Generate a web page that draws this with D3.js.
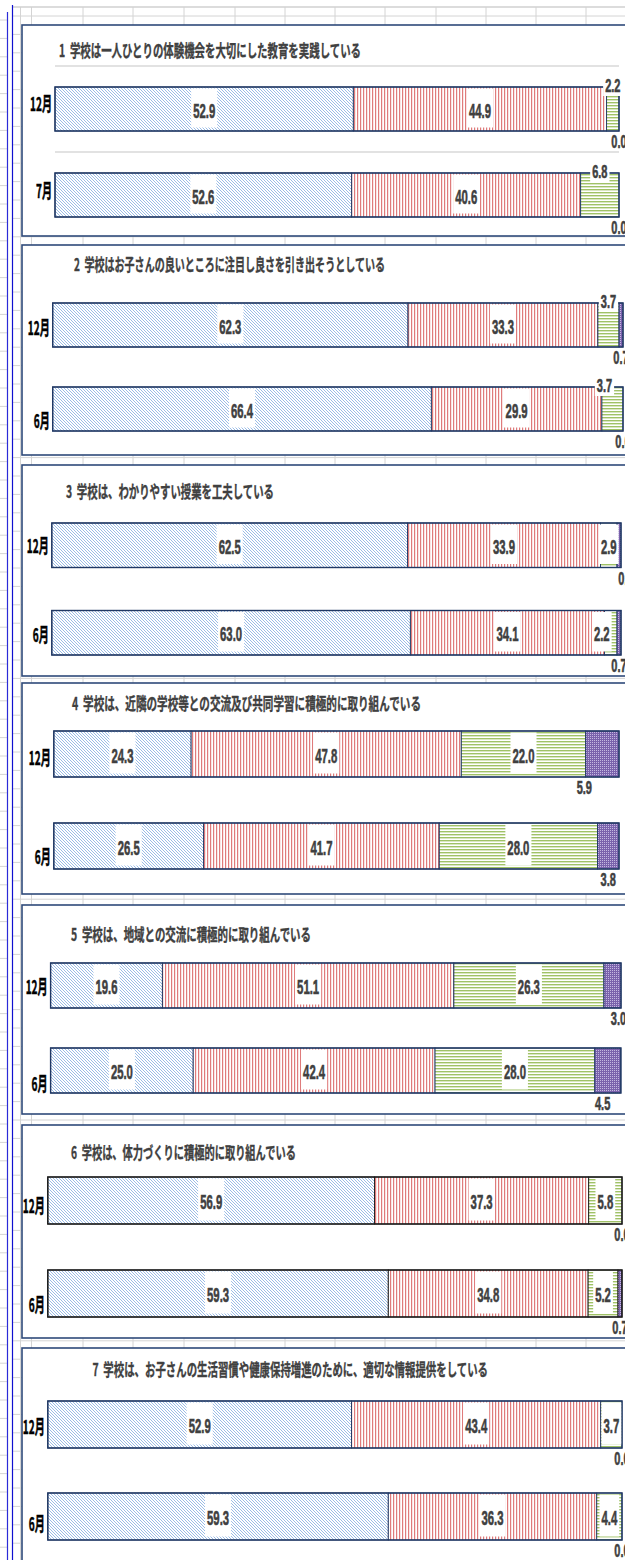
<!DOCTYPE html>
<html><head><meta charset="utf-8">
<script src="https://cdn.jsdelivr.net/npm/d3@7"></script>
<style>
html,body{margin:0;padding:0;background:#fff;}
svg{display:block;}
text{font-weight:bold;white-space:pre;}
</style></head><body>
<svg id="c" width="625" height="1560"></svg>
<script>
// ---------------- data ----------------
const panelTitles = [
  "1  学校は一人ひとりの体験機会を大切にした教育を実践している",
  "2  学校はお子さんの良いところに注目し良さを引き出そうとしている",
  "3  学校は、わかりやすい授業を工夫している",
  "4  学校は、近隣の学校等との交流及び共同学習に積極的に取り組んでいる",
  "5  学校は、地域との交流に積極的に取り組んでいる",
  "6  学校は、体力づくりに積極的に取り組んでいる",
  "7  学校は、お子さんの生活習慣や健康保持増進のために、適切な情報提供をしている"
];
const periods = [
  ["12月","7月"],["12月","6月"],["12月","6月"],["12月","6月"],
  ["12月","6月"],["12月","6月"],["12月","6月"]
];
const seriesKeys = ["そう思う","だいたいそう思う","あまりそう思わない","そう思わない"];
const agree       = [[52.9,52.6],[62.3,66.4],[62.5,63.0],[24.3,26.5],[19.6,25.0],[56.9,59.3],[52.9,59.3]];
const mostlyAgree = [[44.9,40.6],[33.3,29.9],[33.9,34.1],[47.8,41.7],[51.1,42.4],[37.3,34.8],[43.4,36.3]];
const notMuch     = [[2.2,6.8],[3.7,3.7],[2.9,2.2],[22.0,28.0],[26.3,28.0],[5.8,5.2],[3.7,4.4]];
const disagree    = [[0.0,0.0],[0.7,0.0],[0.7,0.7],[5.9,3.8],[3.0,4.5],[0.0,0.7],[0.0,0.0]];

// ---------------- layout ----------------
const layout = [
 {top:25,  bottom:236,  title:[59,361,57],     x:[55,619],   bars:[87,44,217],     grid:true, green:"above", labDy:[-5,-4]},
 {top:245, bottom:455,  title:[74,385,271],    x:[52.7,623], bars:[303,44,431],    green:"above", labDy:[3,12]},
 {top:465, bottom:676,  title:[66,274,498],    x:[51.8,621], bars:[523,44.5,655],  green:"in", labDy:[1,2]},
 {top:683, bottom:894,  title:[72,421,710],    x:[53.8,619], bars:[731,46,869],    green:"in", labDy:[4,11]},
 {top:905, bottom:1114, title:[71,311,941],    x:[50.6,621], bars:[963,45,1093],   green:"in", labDy:[2,14]},
 {top:1125,bottom:1338, title:[71,296,1159],   x:[47.8,622], bars:[1177,47,1317],  green:"in", edge:"#1a1a1a", labDy:[6,12]},
 {top:1348,bottom:1620, title:[92.5,488,1376], x:[47.8,622], bars:[1401,47,1540],  green:"in", labDy:[3,8]}
];
const nudge = {"1-1-2":-8, "2-0-3":7, "2-1-2":-9, "3-0-3":-18, "4-0-3":6, "4-1-3":-5};
const NUM_FONT = '"Liberation Sans", Arial, sans-serif';
const JP_FONT = '"Noto Sans CJK JP", "Noto Sans", sans-serif';

const svg = d3.select("#c");
const defs = svg.append("defs");
function pat(id,w,h,bg,draw){
  const p = defs.append("pattern").attr("id",id).attr("patternUnits","userSpaceOnUse")
    .attr("width",w).attr("height",h);
  p.append("rect").attr("width",w).attr("height",h).attr("fill",bg);
  draw(p);
}
pat("pBlue",3,3,"#fff",p=>p.append("path").attr("d","M-1,-1L4,4M-1,2L1,4M2,-1L4,1")
   .attr("stroke","#9BBCE6").attr("stroke-width",1.0));
pat("pRed",3,3,"#fff",p=>p.append("rect").attr("width",1.2).attr("height",3).attr("fill","#DF7B7B"));
pat("pGreen",3,3,"#fff",p=>p.append("rect").attr("width",3).attr("height",1.4).attr("fill","#A0C266"));
pat("pPurple",2,2,"#7A62AC",p=>p.append("rect").attr("width",1).attr("height",1).attr("fill","#C4B8E0"));
const fills = ["url(#pBlue)","url(#pRed)","url(#pGreen)","url(#pPurple)"];

// ---------------- spreadsheet background ----------------
const bg = svg.append("g");
bg.append("rect").attr("width",625).attr("height",1560).attr("fill","#fff");
for (let y=20; y<1560; y+=18.4){
  bg.append("line").attr("x1",0).attr("x2",7).attr("y1",y).attr("y2",y).attr("stroke","#D4D4D4");
  bg.append("line").attr("x1",12).attr("x2",625).attr("y1",y-4).attr("y2",y-4).attr("stroke","#D4D4D4");
}
[20.5,31.5,83,133,184,235,285,335,385,436,486,536,586].forEach(x=>
  bg.append("line").attr("x1",x).attr("x2",x).attr("y1",7).attr("y2",1560).attr("stroke","#D4D4D4"));
bg.append("line").attr("x1",12).attr("x2",625).attr("y1",7).attr("y2",7).attr("stroke","#D0D0D0").attr("stroke-width",1.5);
bg.append("line").attr("x1",7.5).attr("x2",7.5).attr("y1",12).attr("y2",1560).attr("stroke","#2B2BD8").attr("stroke-width",1.2);
bg.append("line").attr("x1",12.5).attr("x2",12.5).attr("y1",5).attr("y2",1560).attr("stroke","#1010D0").attr("stroke-width",1.2);

function sText(g,x,y,str,size,sx,fill,font){
  return g.append("text").attr("transform",`translate(${x},${y}) scale(${sx},1)`)
    .attr("text-anchor","middle").attr("font-size",size).attr("font-family",font)
    .attr("fill",fill).attr("stroke",fill).attr("stroke-width",0.6).text(str);
}

// ---------------- panels ----------------
layout.forEach((L,p)=>{
  const edge = L.edge || "#203864";
  const g = svg.append("g");
  g.append("rect").attr("x",22).attr("y",L.top).attr("width",640).attr("height",L.bottom-L.top)
    .attr("fill","#fff").attr("stroke","#2F4A7A").attr("stroke-width",1.6);
  g.append("text").attr("x",L.title[0]).attr("y",L.title[2]).attr("xml:space","preserve")
    .attr("textLength",L.title[1]-L.title[0]).attr("lengthAdjust","spacingAndGlyphs")
    .attr("font-family",JP_FONT).attr("font-size",17).attr("fill","#404040")
    .attr("stroke","#404040").attr("stroke-width",0.35)
    .text(panelTitles[p]);

  const x = d3.scaleLinear().domain([0,100]).range(L.x);
  const [b0,bh,b1] = L.bars;
  const S = (b1-b0)-bh;
  const y = d3.scaleBand().domain(periods[p]).range([b0,b1]).paddingInner(1-bh/S).paddingOuter(0);

  if (L.grid){
    periods[p].forEach(m=>{
      const gy = y(m) - (y.step()-y.bandwidth())/2;
      g.append("line").attr("x1",L.x[0]).attr("x2",L.x[1]).attr("y1",gy).attr("y2",gy)
        .attr("stroke","#D9D9D9").attr("stroke-width",1.5);
    });
  }

  const rows = periods[p].map((m,i)=>({period:m,
    [seriesKeys[0]]:agree[p][i],[seriesKeys[1]]:mostlyAgree[p][i],
    [seriesKeys[2]]:notMuch[p][i],[seriesKeys[3]]:disagree[p][i]}));
  const stacked = d3.stack().keys(seriesKeys)(rows);

  stacked.forEach((layer,s)=>{
    g.append("g").selectAll("rect").data(layer).join("rect")
      .attr("x",d=>x(d[0])).attr("width",d=>Math.max(0,x(d[1])-x(d[0])))
      .attr("y",d=>y(d.data.period)).attr("height",y.bandwidth())
      .attr("fill",fills[s]).attr("stroke",edge).attr("stroke-width",0.9);
  });
  rows.forEach(r=>{
    g.append("rect").attr("x",x(0)).attr("width",x(100)-x(0)).attr("y",y(r.period)).attr("height",y.bandwidth())
      .attr("fill","none").attr("stroke",edge).attr("stroke-width",1.4);
  });

  // category labels
  const ax = g.append("g").attr("transform",`translate(${L.x[0]-3},0)`)
    .call(d3.axisLeft(y).tickSize(0).tickPadding(0));
  ax.select(".domain").remove();
  ax.selectAll("text").attr("font-size",19).attr("font-family",JP_FONT).attr("fill","#000")
    .attr("stroke","#000").attr("stroke-width",0.5)
    .attr("font-weight","bold").attr("transform","scale(0.53,1)").attr("dy","0.36em")
    .attr("y",(d,i)=>L.labDy[i]);

  // value labels
  const lg = g.append("g");
  stacked.forEach((layer,s)=>{
    layer.forEach((d,i)=>{
      const v = d[1]-d[0];
      const txt = d3.format(".1f")(v);
      const mode = s<2 ? "in" : (s===2 ? L.green : "below");
      const cx = (x(d[0])+x(d[1]))/2 + (nudge[`${p}-${i}-${s}`]||0);
      const top = y(d.data.period), bot = top + y.bandwidth();
      if (mode==="in"){
        const box = lg.append("rect");
        const t = sText(lg,cx,top+y.bandwidth()/2+8.5,txt,21,0.54,"#404040",NUM_FONT);
        const w = t.node().getComputedTextLength()*0.54+4;
        box.attr("x",cx-w/2).attr("width",w).attr("y",top+1.5).attr("height",y.bandwidth()-5).attr("fill","#fff");
      } else if (mode==="above"){
        const cy = top-2;
        const box = lg.append("rect");
        const t = sText(lg,cx,cy+7,txt,19,0.58,"#404040",NUM_FONT);
        const w = t.node().getComputedTextLength()*0.58+4;
        box.attr("x",cx-w/2).attr("width",w).attr("y",cy-11).attr("height",22).attr("fill","#fff");
      } else {
        sText(lg,cx,bot+10+7,txt,19,0.58,"#404040",NUM_FONT);
      }
    });
  });
});
</script>
</body></html>
